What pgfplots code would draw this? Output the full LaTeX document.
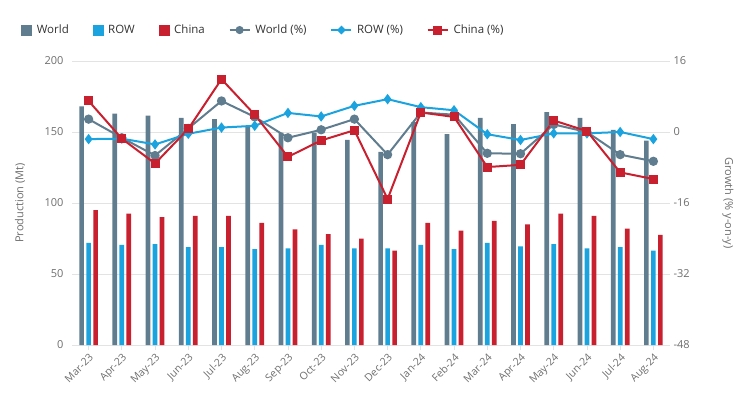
\documentclass[border=0pt]{standalone}
\usepackage{fontspec}
\setmainfont{Open Sans}
\usepackage{pgfplots}
\usepackage{pgfplotstable}
\pgfplotsset{compat=1.18}

\definecolor{worldc}{HTML}{5F7D8F}
\definecolor{rowc}{HTML}{1AA3DE}
\definecolor{chinac}{HTML}{C8202F}
\definecolor{gridc}{HTML}{E3E3E3}
\definecolor{labc}{HTML}{6E6E6E}
\definecolor{legc}{HTML}{333333}

% idx, production (Mt), growth (% y-on-y)
\pgfplotstableread{
idx world row  china wg   rg   cg
0   168   72   95    2.9  -1.6 7.0
1   163   70.5 92.5  -1.3 -1.5 -1.5
2   161.5 71   90    -5.3 -2.8 -7.1
3   160   69   91    0.8  -0.4 0.7
4   159   69   91    7.0  1.0  11.9
5   154.5 67.5 86    3.4  1.4  3.9
6   149.5 68   81.5  -1.3 4.3  -5.6
7   149.5 70.5 78    0.5  3.5  -1.9
8   144.5 68   75    2.9  5.9  0.4
9   136   68   66.5  -5.1 7.4  -15.1
10  157   70.5 86    4.4  5.6  4.4
11  148.5 67.5 80.5  3.9  4.9  3.4
12  160   72   87.5  -4.8 -0.5 -7.9
13  155.5 69.5 85    -4.9 -1.8 -7.4
14  164   71   92.5  1.7  -0.3 2.6
15  160   68   91    0.0  -0.3 0.2
16  151.5 69   82    -5.1 0.0  -9.1
17  144   66.5 77.5  -6.6 -1.6 -10.6
}\prod

\begin{document}
\begin{tikzpicture}
\path[use as bounding box] (-72pt,-55pt) rectangle (678pt,345pt);
\pgfplotsset{
  base/.style={
    scale only axis, width=598pt, height=284pt,
    xmin=-0.5, xmax=17.5,
    tick label style={font=\fontsize{11}{13}\selectfont, text=labc},
    label style={font=\fontsize{11}{13}\selectfont, text=labc},
    /pgf/number format/assume math mode=true,
  },
}
\begin{axis}[base,
  ymin=0, ymax=200, ytick={0,50,100,150,200},
  ymajorgrids, grid style={draw=gridc, line width=0.7pt},
  axis x line*=bottom, axis y line*=left,
  y axis line style={draw=none}, ytick style={draw=none},
  x axis line style={draw=gridc, line width=0.7pt},
  xtick={0,...,17},
  xticklabels={Mar-23,Apr-23,May-23,Jun-23,Jul-23,Aug-23,Sep-23,Oct-23,Nov-23,Dec-23,Jan-24,Feb-24,Mar-24,Apr-24,May-24,Jun-24,Jul-24,Aug-24},
  xticklabel style={rotate=45, anchor=north east, font=\fontsize{10.5}{12}\selectfont, inner sep=2pt},
  xtick style={draw=gridc, line width=0.7pt}, tick align=outside, major tick length=5pt,
  ylabel={Production (Mt)},
  ylabel style={at={(axis description cs:-0.087,0.5)}, anchor=center},
  ybar=2.3pt, bar width=4.7pt,
]
\addplot[fill=worldc, draw=none] table[x=idx, y=world] {\prod};
\addplot[fill=rowc, draw=none] table[x=idx, y=row] {\prod};
\addplot[fill=chinac, draw=none] table[x=idx, y=china] {\prod};
\end{axis}

\begin{axis}[base,
  ymin=-48, ymax=16, ytick={-48,-32,-16,0,16},
  axis y line*=right, axis x line=none,
  y axis line style={draw=none}, ytick style={draw=none},
  ylabel={Growth (\% y-on-y)},
  ylabel style={at={(axis description cs:1.097,0.5)}, anchor=center, rotate=180},
  legend columns=6,
  legend style={at={(axis description cs:-0.09,1.109)}, anchor=west, draw=none,
    font=\fontsize{11.5}{13}\selectfont, text=legc,
    /tikz/every odd column/.style={column sep=3pt},
    /tikz/every even column/.style={column sep=22pt}},
]
\addlegendimage{legend image code/.code={\fill[worldc] (0pt,-5pt) rectangle (10pt,5pt);}}
\addlegendentry{World}
\addlegendimage{legend image code/.code={\fill[rowc] (0pt,-5pt) rectangle (10pt,5pt);}}
\addlegendentry{ROW}
\addlegendimage{legend image code/.code={\fill[chinac] (0pt,-5pt) rectangle (10pt,5pt);}}
\addlegendentry{China}
\addplot[worldc, line width=2pt, mark=*, mark size=3.6pt,
  legend image code/.code={\draw[worldc, line width=1.5pt] (0pt,0pt) -- (20pt,0pt); \fill[worldc] (10pt,0pt) circle (3pt);}]
  table[x=idx, y=wg] {\prod};
\addlegendentry{World (\%)}
\addplot[rowc, line width=2pt, mark=diamond*, mark size=3.6pt,
  legend image code/.code={\draw[rowc, line width=1.5pt] (0pt,0pt) -- (20pt,0pt); \fill[rowc] (7pt,0pt) -- (10pt,3pt) -- (13pt,0pt) -- (10pt,-3pt) -- cycle;}]
  table[x=idx, y=rg] {\prod};
\addlegendentry{ROW (\%)}
\addplot[chinac, line width=2pt, mark=square*, mark size=3.5pt,
  legend image code/.code={\draw[chinac, line width=1.5pt] (0pt,0pt) -- (20pt,0pt); \fill[chinac] (6.5pt,-3.5pt) rectangle (13.5pt,3.5pt);}]
  table[x=idx, y=cg] {\prod};
\addlegendentry{China (\%)}
\end{axis}
\end{tikzpicture}
\end{document}
